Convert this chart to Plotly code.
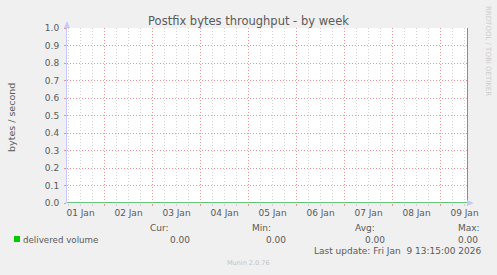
import plotly.graph_objects as go

# ---- data ----
times = ["2026-01-01 05:15", "2026-01-02 00:00", "2026-01-03 00:00", "2026-01-04 00:00",
         "2026-01-05 00:00", "2026-01-06 00:00", "2026-01-07 00:00", "2026-01-08 00:00",
         "2026-01-09 00:00", "2026-01-09 13:15"]
delivered_volume = [0.0, 0.0, 0.0, 0.0, 0.0, 0.0, 0.0, 0.0, 0.0, 0.0]

x_start = "2026-01-01 05:15"
x_end = "2026-01-09 13:15"
label_times = ["2026-01-01 12:00", "2026-01-02 12:00", "2026-01-03 12:00", "2026-01-04 12:00",
               "2026-01-05 12:00", "2026-01-06 12:00", "2026-01-07 12:00", "2026-01-08 12:00",
               "2026-01-09 12:00"]
day_labels = ["01 Jan", "02 Jan", "03 Jan", "04 Jan", "05 Jan", "06 Jan", "07 Jan", "08 Jan", "09 Jan"]
y_ticks = [0.0, 0.1, 0.2, 0.3, 0.4, 0.5, 0.6, 0.7, 0.8, 0.9, 1.0]

title = "Postfix bytes throughput - by week"
y_title = "bytes / second"
series_name = "delivered volume"
last_update = "Last update: Fri Jan  9 13:15:00 2026"
version = "Munin 2.0.76"
watermark = "RRDTOOL / TOBI OETIKER"

# ---- layout geometry ----
W, H = 497, 275
L, R, T, B = 67, 30, 28, 72
PW, PH = W - L - R, H - T - B


def px(x):
    return (x - L) / PW


def py(y):
    return (T + PH - y) / PH


FONT = "DejaVu Sans"
TXT = "#5a5a5a"
GREEN = "#00cc00"
MAJOR = "rgba(228,130,130,0.85)"
MINOR = "rgba(205,205,205,0.9)"
AXIS = "#c8c8f8"

cur = delivered_volume[-1]
vmin = min(delivered_volume)
vmax = max(delivered_volume)
vavg = sum(delivered_volume) / len(delivered_volume)

fig = go.Figure()
fig.add_trace(go.Scatter(x=times, y=delivered_volume, mode="lines",
                         line=dict(color="#66c47f", width=2), showlegend=False,
                         hoverinfo="skip"))
# invisible helpers for overlay axes
fig.add_trace(go.Scatter(x=[x_start, x_end], y=[0, 0], xaxis="x2", yaxis="y2",
                         mode="lines", line=dict(width=0), showlegend=False, hoverinfo="skip"))

fig.update_layout(
    width=W, height=H,
    margin=dict(l=L, r=R, t=T, b=B),
    paper_bgcolor="#f0f0f0", plot_bgcolor="#ffffff",
    font=dict(family=FONT, size=9, color=TXT),
    showlegend=False,
    title=dict(text=title, x=(248.5) / W, xanchor="center", xref="container",
               y=1 - 21 / H, yanchor="middle", yref="container",
               font=dict(family=FONT, size=11.5, color=TXT)),
    xaxis=dict(type="date", range=[x_start, x_end], showticklabels=False,
               tick0="2026-01-01", dtick=86400000,
               showgrid=True, gridcolor=MAJOR, griddash="1px,2px", gridwidth=1,
               ticks="outside", ticklen=2, tickcolor=MAJOR,
               minor=dict(dtick=21600000, showgrid=True, gridcolor=MINOR,
                          griddash="1px,2px", ticks="outside", ticklen=2, tickcolor=MINOR),
               showline=False, zeroline=False, fixedrange=True),
    xaxis2=dict(type="date", range=[x_start, x_end], overlaying="x", anchor="y", side="bottom",
                tickmode="array", tickvals=label_times, ticktext=day_labels,
                showgrid=False, ticks="", showline=False, zeroline=False,
                tickfont=dict(family=FONT, size=9, color=TXT), ticklabelstandoff=3),
    yaxis=dict(range=[0, 1], tickmode="array", tickvals=y_ticks, tickformat=".1f",
               showgrid=True, gridcolor=MAJOR, griddash="1px,2px",
               ticks="outside", ticklen=2, tickcolor=MAJOR,
               showline=True, linecolor=AXIS, linewidth=1, zeroline=False,
               tickfont=dict(family=FONT, size=9, color=TXT), ticklabelstandoff=3),
    yaxis2=dict(range=[0, 1], overlaying="y", side="right", anchor="x",
                showticklabels=False, showgrid=False, ticks="", zeroline=False,
                showline=True, linecolor="#8c8c8c", linewidth=1),
)

# axis arrows
fig.add_shape(type="path", xref="paper", yref="paper", line=dict(width=0), fillcolor=AXIS,
              path=f"M {px(64)} {py(28)} L {px(70)} {py(28)} L {px(67)} {py(21)} Z")
fig.add_shape(type="path", xref="paper", yref="paper", line=dict(width=0), fillcolor=AXIS,
              path=f"M {px(467)} {py(200)} L {px(467)} {py(206)} L {px(474)} {py(203)} Z")
# legend swatch
fig.add_shape(type="rect", xref="paper", yref="paper", line=dict(width=0), fillcolor=GREEN,
              x0=px(14), x1=px(20), y0=py(242), y1=py(236))


def ann(text, x, y, xanchor="left", size=9, color=TXT, angle=0):
    fig.add_annotation(text=text, x=px(x), y=py(y), xref="paper", yref="paper",
                       xanchor=xanchor, yanchor="middle", showarrow=False,
                       textangle=angle, font=dict(family=FONT, size=size, color=color))


ann(y_title, 11, 117, "center", size=9.5, angle=-90)
ann(series_name, 21, 239.5, size=8.7)
ann("Cur:", 148, 228)
ann("Min:", 250, 228)
ann("Avg:", 353, 228)
ann("Max:", 456, 228)
ann(f"{cur:.2f}", 192, 239.5, "right")
ann(f"{vmin:.2f}", 288, 239.5, "right")
ann(f"{vavg:.2f}", 386.5, 239.5, "right")
ann(f"{vmax:.2f}", 480, 239.5, "right")
ann(last_update, 482.5, 251, "right")
ann(version, 248, 263, "center", size=6.5, color="#c4c4c4")
ann(watermark, 488, 51, "center", size=7, color="#cccccc", angle=90)

fig.write_html("out.html")
